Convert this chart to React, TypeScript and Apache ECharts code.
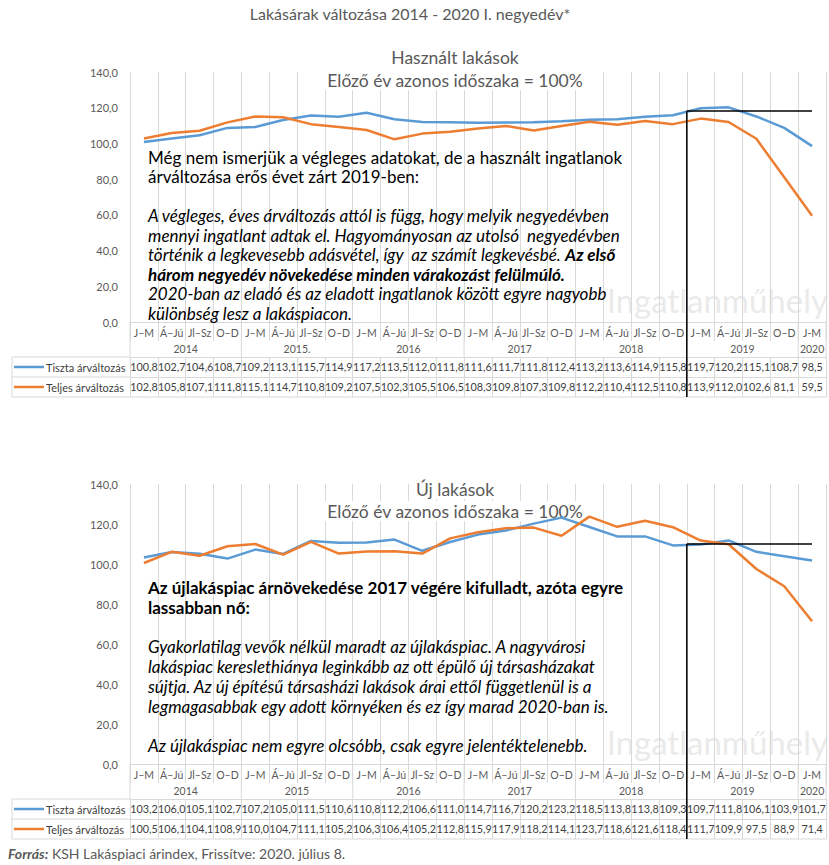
import React, { useEffect, useRef } from "react";
import * as echarts from "echarts";

const quarters = ["J–M", "Á–Jú", "Jl–Sz", "O–D", "J–M", "Á–Jú", "Jl–Sz", "O–D", "J–M", "Á–Jú", "Jl–Sz", "O–D", "J–M", "Á–Jú", "Jl–Sz", "O–D", "J–M", "Á–Jú", "Jl–Sz", "O–D", "J–M", "Á–Jú", "Jl–Sz", "O–D", "J-M"];
const yearsUsed = ["2014", "2015.", "2016", "2017", "2018", "2019", "2020"];
const yearsNew = ["2014", "2015", "2016", "2017", "2018", "2019", "2020"];
const yearSpans = [4, 4, 4, 4, 4, 4, 1];

const usedTiszta = [100.8, 102.7, 104.6, 108.7, 109.2, 113.1, 115.7, 114.9, 117.2, 113.5, 112.0, 111.8, 111.6, 111.7, 111.8, 112.4, 113.2, 113.6, 114.9, 115.8, 119.7, 120.2, 115.1, 108.7, 98.5];
const usedTeljes = [102.8, 105.8, 107.1, 111.8, 115.1, 114.7, 110.8, 109.2, 107.5, 102.3, 105.5, 106.5, 108.3, 109.8, 107.3, 109.8, 112.2, 110.4, 112.5, 110.8, 113.9, 112.0, 102.6, 81.1, 59.5];
const newTiszta = [103.2, 106.0, 105.1, 102.7, 107.2, 105.0, 111.5, 110.6, 110.8, 112.2, 106.6, 111.0, 114.7, 116.7, 120.2, 123.2, 118.5, 113.8, 113.8, 109.3, 109.7, 111.8, 106.1, 103.9, 101.7];
const newTeljes = [100.5, 106.1, 104.1, 108.9, 110.0, 104.7, 111.1, 105.2, 106.3, 106.4, 105.2, 112.8, 115.9, 117.9, 118.2, 114.1, 123.7, 118.6, 121.6, 118.4, 111.7, 109.9, 97.5, 88.9, 71.4];

const seriesNames = ["Tiszta árváltozás", "Teljes árváltozás"];
const colors = ["#5B9BD5", "#ED7D31"];
const yTicks = { min: 0, max: 140, interval: 20 };
const highlightStart = 20; // 2019 J–M
const highlightLevel = [118.2, 110];

const FONT = "Lato, 'Open Sans', sans-serif";
const GRAY = "#595959";
const GRID_COLOR = "#d9d9d9";

const GL = 130;
const GW = 696;
const grids = [
  { top: 72, height: 250 },
  { top: 484, height: 280 },
];

const fmt = (v: number) => v.toFixed(1).replace(".", ",");

export default function App() {
  const ref = useRef<HTMLDivElement>(null);
  useEffect(() => {
    if (!ref.current) return;
    const chart = echarts.init(ref.current, null, { renderer: "svg" });
    const cell = GW / quarters.length;
    const panels = [
      { years: yearsUsed, data: [usedTiszta, usedTeljes] },
      { years: yearsNew, data: [newTiszta, newTeljes] },
    ];

    const xAxis: any[] = [];
    const yAxis: any[] = [];
    const series: any[] = [];
    const graphic: any[] = [];

    panels.forEach((p, gi) => {
      const g = grids[gi];
      const bottom = g.top + g.height;
      const base = xAxis.length;
      xAxis.push({
        gridIndex: gi,
        type: "category",
        data: quarters,
        boundaryGap: true,
        axisLine: { show: true, lineStyle: { color: GRID_COLOR } },
        axisTick: { show: true, interval: 0, length: 19, lineStyle: { color: GRID_COLOR } },
        axisLabel: { interval: 0, fontSize: 10.5, color: GRAY, fontFamily: FONT, margin: 5 },
        splitLine: { show: true, interval: 0, lineStyle: { color: GRID_COLOR } },
      });
      p.data.forEach((vals, si) => {
        xAxis.push({
          gridIndex: gi,
          type: "category",
          data: vals.map(fmt),
          boundaryGap: true,
          position: "bottom",
          offset: 35 + si * 20,
          axisLine: { show: true, lineStyle: { color: GRID_COLOR } },
          axisTick: { show: true, interval: 0, length: 20, lineStyle: { color: GRID_COLOR } },
          axisLabel: { interval: 0, fontSize: 10.8, color: "#404040", fontFamily: FONT, margin: 4 },
          splitLine: { show: false },
        });
      });
      yAxis.push({
        gridIndex: gi,
        type: "value",
        ...yTicks,
        axisLine: { show: false },
        axisTick: { show: false },
        splitLine: { show: false },
        axisLabel: { formatter: (v: number) => fmt(v), fontSize: 11, color: GRAY, fontFamily: FONT, margin: 12 },
      });
      p.data.forEach((vals, si) => {
        series.push({
          type: "line",
          name: seriesNames[si],
          xAxisIndex: base,
          yAxisIndex: gi,
          data: vals,
          symbol: "none",
          lineStyle: { width: 2.5, color: colors[si] },
          itemStyle: { color: colors[si] },
          z: 3,
        });
      });

      // year row
      let start = 0;
      p.years.forEach((yr, k) => {
        const span = yearSpans[k];
        graphic.push({
          type: "text",
          x: GL + (start + span / 2) * cell,
          y: bottom + 27,
          style: { text: yr, fontSize: 10.5, fill: GRAY, fontFamily: FONT, align: "center", verticalAlign: "middle" },
        });
        start += span;
      });
      let acc = 0;
      [0, ...yearSpans].forEach((span) => {
        acc += span;
        graphic.push({
          type: "line",
          shape: { x1: GL + acc * cell, y1: bottom, x2: GL + acc * cell, y2: bottom + 35 },
          style: { stroke: GRID_COLOR, lineWidth: 1 },
        });
      });

      // table legend column and borders
      const rowTop = bottom + 35;
      [0, 1, 2].forEach((r) => {
        graphic.push({
          type: "line",
          shape: { x1: 12, y1: rowTop + r * 20, x2: r === 2 ? GL + GW : GL, y2: rowTop + r * 20 },
          style: { stroke: GRID_COLOR, lineWidth: 1 },
        });
      });
      graphic.push({
        type: "line",
        shape: { x1: 12, y1: rowTop, x2: 12, y2: rowTop + 40 },
        style: { stroke: GRID_COLOR, lineWidth: 1 },
      });
      seriesNames.forEach((nm, si) => {
        const cy = rowTop + si * 20 + 10;
        graphic.push({
          type: "line",
          shape: { x1: 14, y1: cy, x2: 44, y2: cy },
          style: { stroke: colors[si], lineWidth: 2.5 },
        });
        graphic.push({
          type: "text",
          x: 46,
          y: cy,
          style: { text: nm, fontSize: 11, fill: "#404040", fontFamily: FONT, verticalAlign: "middle" },
        });
      });

      // highlight annotation lines
      const hx = GL + highlightStart * cell;
      const hy = bottom - (highlightLevel[gi] / yTicks.max) * g.height;
      graphic.push({
        type: "line",
        shape: { x1: hx, y1: hy, x2: hx, y2: rowTop + 40 },
        style: { stroke: "#000", lineWidth: 1.5 },
        z: 10,
      });
      graphic.push({
        type: "line",
        shape: { x1: hx, y1: hy, x2: 812, y2: hy },
        style: { stroke: "#000", lineWidth: 1.5 },
        z: 10,
      });

      // watermark
      graphic.push({
        type: "text",
        x: 828,
        y: bottom - 22,
        style: { text: "Ingatlanműhely", fontSize: 33, fill: "rgba(200,200,200,0.4)", fontFamily: FONT, align: "right", verticalAlign: "middle" },
      });
    });

    // titles
    graphic.push({
      type: "text", x: 410, y: 13,
      style: { text: "Lakásárak változása 2014 - 2020 I. negyedév*", fontSize: 16, fill: GRAY, fontFamily: FONT, align: "center", verticalAlign: "middle" },
    });
    const subs = [
      ["Használt lakások", 57, 80],
      ["Új lakások", 489, 511],
    ] as const;
    subs.forEach(([t, y1, y2]) => {
      graphic.push({ type: "text", x: 455, y: y1, z: 1, style: { text: t, fontSize: 17.5, fill: GRAY, fontFamily: FONT, align: "center", verticalAlign: "middle", backgroundColor: "#fff", padding: [1, 3] } });
      graphic.push({ type: "text", x: 455, y: y2, z: 1, style: { text: "Előző év azonos időszaka = 100%", fontSize: 17.5, fill: GRAY, fontFamily: FONT, align: "center", verticalAlign: "middle", backgroundColor: "#fff", padding: [1, 3] } });
    });

    // commentary
    const FS = 17;
    const rich = {
      n: { fontSize: FS, fill: "#000", fontFamily: FONT },
      i: { fontSize: FS, fill: "#000", fontFamily: FONT, fontStyle: "italic" },
      b: { fontSize: FS, fill: "#000", fontFamily: FONT, fontWeight: "bold" },
      bi: { fontSize: FS, fill: "#000", fontFamily: FONT, fontWeight: "bold", fontStyle: "italic" },
    };
    const lines: [string, number][] = [
      ["{n|Még nem ismerjük a végleges adatokat, de a használt ingatlanok}", 157],
      ["{n|árváltozása erős évet zárt 2019-ben:}", 176],
      ["{i|A végleges, éves árváltozás attól is függ, hogy melyik negyedévben}", 215],
      ["{i|mennyi ingatlant adtak el. Hagyományosan az utolsó  negyedévben}", 235],
      ["{i|történik a legkevesebb adásvétel, így  az számít legkevésbé. }{bi|Az első}", 254],
      ["{bi|három negyedév növekedése minden várakozást felülmúló.}", 274],
      ["{i|2020-ban az eladó és az eladott ingatlanok között egyre nagyobb}", 293],
      ["{i|különbség lesz a lakáspiacon.}", 313],
      ["{b|Az újlakáspiac árnövekedése 2017 végére kifulladt, azóta egyre}", 587],
      ["{b|lassabban nő:}", 607],
      ["{i|Gyakorlatilag vevők nélkül maradt az újlakáspiac. A nagyvárosi}", 646],
      ["{i|lakáspiac kereslethiánya leginkább az ott épülő új társasházakat}", 666],
      ["{i|sújtja. Az új építésű társasházi lakások árai ettől függetlenül is a}", 686],
      ["{i|legmagasabbak egy adott környéken és ez így marad 2020-ban is.}", 706],
      ["{i|Az újlakáspiac nem egyre olcsóbb, csak egyre jelentéktelenebb.}", 745],
    ];
    lines.forEach(([t, y]) => {
      graphic.push({
        type: "text", x: 148, y, z: 20,
        style: { text: t, rich, verticalAlign: "middle" },
      });
    });

    // footer
    graphic.push({
      type: "text", x: 8, y: 853,
      style: {
        text: "{b|Forrás:} KSH Lakáspiaci árindex, Frissítve: 2020. július 8.",
        fontSize: 14, fill: GRAY, fontFamily: FONT, verticalAlign: "middle",
        rich: { b: { fontSize: 14, fill: GRAY, fontFamily: FONT, fontWeight: "bold", fontStyle: "italic" } },
      },
    });

    chart.setOption({
      animation: false,
      backgroundColor: "#fff",
      grid: grids.map((g) => ({ left: GL, width: GW, top: g.top, height: g.height, containLabel: false })),
      xAxis,
      yAxis,
      series,
      graphic,
    });
    return () => chart.dispose();
  }, []);
  return <div ref={ref} style={{ position: "absolute", left: 0, top: 0, width: 829, height: 865 }} />;
}
